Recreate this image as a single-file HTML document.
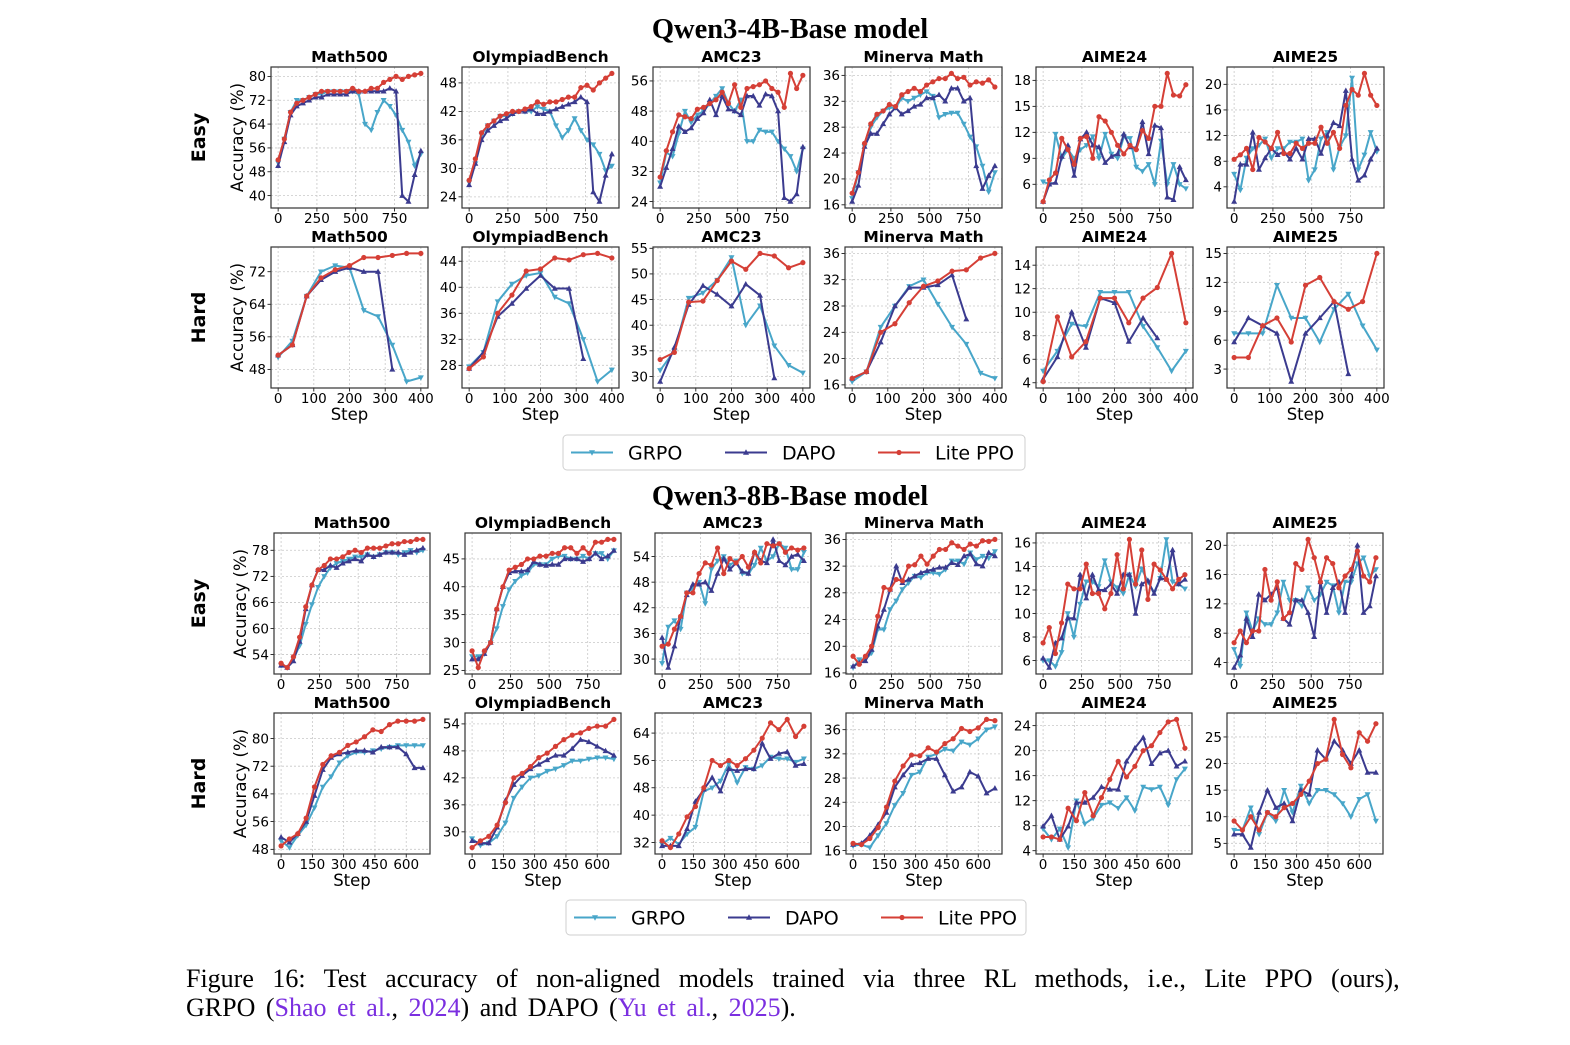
<!DOCTYPE html>
<html><head><meta charset="utf-8"><style>
body{margin:0;background:#fff;width:1570px;height:1040px;overflow:hidden;}
svg text{font-family:"DejaVu Sans","Liberation Sans",sans-serif;}
</style></head><body>
<svg id="fig" width="1570" height="1040" xmlns="http://www.w3.org/2000/svg">
<text x="790" y="38" text-anchor="middle" font-size="28.5" font-weight="bold" style="font-family:'Liberation Serif',serif">Qwen3-4B-Base model</text>
<text x="790" y="505" text-anchor="middle" font-size="28.5" font-weight="bold" style="font-family:'Liberation Serif',serif">Qwen3-8B-Base model</text>
<text x="186" y="987" font-size="26" word-spacing="12" style="font-family:'Liberation Serif',serif">Figure 16:  Test accuracy of non-aligned models trained via three RL methods, i.e., Lite PPO (ours),</text>
<text x="186" y="1016" font-size="26" word-spacing="4" style="font-family:'Liberation Serif',serif">GRPO (<tspan fill="#7b2fe0">Shao et al.</tspan>, <tspan fill="#7b2fe0">2024</tspan>) and DAPO (<tspan fill="#7b2fe0">Yu et al.</tspan>, <tspan fill="#7b2fe0">2025</tspan>).</text>
</svg>
<script>
// ---- step arrays
const stepsLong = [0,40,80,120,160,200,240,280,320,360,400,440,480,520,560,600,640,680,720,760,800,840,880,920];
const steps400 = [0,40,80,120,160,200,240,280,320,360,400];
const steps320 = [0,40,80,120,160,200,240,280,320];
const steps680 = [0,40,80,120,160,200,240,280,320,360,400,440,480,520,560,600,640,680];
const xticksLong = [0,250,500,750];
const xticks400 = [0,100,200,300,400];
const xticks680 = [0,150,300,450,600];

// ---- Row 1: 4B easy
const r1MathG=[51,59,68,72,72,73,74,74,75,75,75,75,75,74,64,62,68,72,70,67,62,58,50,54];
const r1MathD=[50,58,67,70,71,72,73,73,74,74,74,74,75,75,75,75,75,75,76,75,40,38,47,55];
const r1MathL=[52,59,68,71,72,73,74,75,75,75,75,75,76,75,75,76,76,78,79,80,79,80,80.5,81];
const r1MathT=[40,48,56,64,72,80];
const r1OlyG=[27,31,37,39,40,41,41,41.5,42,42,42,43,42.5,42,39,36.5,38,40.5,38,36,35,33,29.5,30.5];
const r1OlyD=[26.5,31,36,38,39,40,40.5,41.5,42,42,42.5,41.5,41.5,42,42.5,43,43.5,44,45,44,25,23,28.5,33];
const r1OlyL=[27.5,32,37.5,39,40,41,41.5,42,42,42.5,43,44,43.5,44,44,44.5,45,45,47,47.5,46.5,48,49,50];
const r1OlyT=[24,30,36,42,48];
const r1AmcG=[29,37,36,42,48,45,47,48,50,52,54,50,48,51,40,40,43,42.5,42.5,40,38,36,32,38];
const r1AmcD=[28,33,38,44,42.5,43.5,46,47.5,51,47,52,48.5,48,47,52,52,49.5,52.5,52,48,25,24,26,38.5];
const r1AmcL=[30.5,37.5,42.5,47,46.5,46,48.5,49,50,51,53,50,55,49,54,54.5,55,56,54,53,49,58,54,57.5];
const r1AmcT=[24,32,40,48,56];
const r1MinG=[17,21,25,28,29.5,30.5,31,31,32.5,32,32.5,33,33.5,32.8,29.5,30,30.2,30.2,28.5,26.5,25,22,18,21];
const r1MinD=[16.5,19,25,27,27,28.5,30,31,30,30.5,31.2,31.5,32.5,32.5,33,32,34,34,32,32.5,22,18.5,20.5,22];
const r1MinL=[17.8,21,25.5,28.5,30,30.5,31.5,31.2,33,33.5,34,33.5,34.5,35,35.5,35.5,36.3,35.5,35.7,34.5,35,34.8,35.3,34.2];
const r1MinT=[16,20,24,28,32,36];
const r1A24G=[6.3,6,11.8,9,10,9,10,10.5,11.5,9,11.8,9.5,9,11.5,11.3,8,7.5,8.3,6,11,6,8.3,6,5.5];
const r1A24D=[4,6,6.2,9.2,10.5,7,11.2,12,10.5,10.3,8.5,9.2,9.5,11.8,10.3,10.2,13.2,9.5,12.8,12.5,4.5,4.2,8,6.5];
const r1A24L=[4,6.5,7.3,11.3,10,8.3,11.3,11.5,9,13.8,13.3,12,10.5,9.5,10.5,10,12.2,11.3,15,15,18.8,16.3,16.2,17.5];
const r1A24T=[6,9,12,15,18];
const r1A25G=[6,3.5,8.5,10,10.5,11.5,8.5,10,10,11,11,11.5,5,6.7,11.5,12.5,6.7,10.2,12,21,6.7,9,12.5,9.5];
const r1A25D=[1.7,7.5,7.5,12.5,6.7,8.5,10,9,9.5,8.3,10,8.3,11.5,11.5,9.2,12,14,13.5,19,8.3,5,5.8,8.3,10];
const r1A25L=[8.3,9,10,6.7,11.7,11,10,12.5,9.2,9.2,10.8,10,10.8,10.8,13.3,10.8,12.5,10,16.7,19.2,18.3,21.7,18.3,16.7];
const r1A25T=[4,8,12,16,20];

// ---- Row 2: 4B hard
const r2MathG=[51,55,66,72,73.5,73,62.5,61,54,45,46];
const r2MathD=[51.5,54,66,70,72,73,72,72,48];
const r2MathL=[51.5,54,66,70.5,72.5,73.5,75.5,75.5,76,76.5,76.5];
const r2MathT=[48,56,64,72];
const r2OlyG=[27.8,30,37.8,40.5,41.8,42.2,38.5,37.5,32,25.5,27.3];
const r2OlyD=[27.5,30,35.5,37.5,39.8,41.8,39.8,39.8,29];
const r2OlyL=[27.5,29.3,36,38.8,42.5,42.8,44.5,44.2,45,45.2,44.5];
const r2OlyT=[28,32,36,40,44];
const r2AmcG=[31.2,35,45.3,46.3,48.8,53.2,40,43.8,36,32.2,30.7];
const r2AmcD=[29,35.7,44,47.7,46,43.7,48,45.8,29.7];
const r2AmcL=[33.3,34.7,44.5,44.7,48.7,52.5,50.9,54,53.5,51.2,52.2];
const r2AmcT=[30,35,40,45,50,55];
const r2MinG=[16.5,18,24.8,28,31,32,28.3,24.8,22.2,17.8,17];
const r2MinD=[17,18,22.5,28,30.8,30.8,31.2,32.7,26];
const r2MinL=[17,18,24,25.3,28.5,31,31.8,33.3,33.5,35.3,36];
const r2MinT=[16,20,24,28,32,36];
const r2A24G=[5,6.7,9,8.8,11.7,11.7,11.7,8.8,7,5,6.7];
const r2A24D=[4.3,6.2,10,7,11.2,10.8,7.5,9.5,7.8];
const r2A24L=[4.1,9.6,6.2,7.5,11.2,11.2,9.1,11.2,12.1,15,9.1];
const r2A24T=[4,6,8,10,12,14];
const r2A25G=[6.7,6.7,6.7,11.7,8.3,8.3,5.8,9.2,10.8,7.5,5];
const r2A25D=[5.8,8.3,7.5,6.7,1.7,6.7,8.3,10,2.5];
const r2A25L=[4.2,4.2,7.5,8.3,5.8,11.7,12.5,10,9.2,10,15];
const r2A25T=[3,6,9,12,15];

// ---- Row 3: 8B easy
const r3MathG=[51.5,51,53,56,61,65.5,69.5,72,74,75,75.5,76,76.5,76.5,77,76.5,77,77.5,77.5,77,77.5,78,77.5,78];
const r3MathD=[51.5,51,52.5,57,64.5,70,73.5,73.5,74.5,74,75,75.5,76,75.5,77,76.5,77,77.5,77.5,77.5,77,77.5,78,78.5];
const r3MathL=[52,51,53.5,58,65,70,73.5,74.5,76,76,76.5,77.5,78,77.5,78.5,78.5,78.5,79,79.5,79.5,80,80,80.5,80.5];
const r3MathT=[54,60,66,72,78];
const r3OlyG=[27.5,27.5,28,30,32.5,36.5,39.5,41,42,42.5,44,44,44,45,45.5,45.5,45,45,45.5,45,46,46,45,46.5];
const r3OlyD=[27,27,28,30,36,40,42.5,42.8,42.8,43,44.5,44,43.8,44,44,45,45,45,44.5,45,46,45,45.5,46.5];
const r3OlyL=[28.5,25.5,28.5,30,36,40,43,43.5,44,45,45,45.5,45.5,46,46,47,47,46,47,46,48,48,48.5,48.5];
const r3OlyT=[25,30,35,40,45];
const r3AmcG=[29,37.5,39,37,45.5,46.5,48,43,51,53,54,52,53,50,50,52,56,53,54,57,56,51,51,55];
const r3AmcD=[35,28,33,40,45,47.5,47.5,48,46,50,53.5,51,52.5,50.5,50,55,53,52.5,58,53,52,54,54.5,53];
const r3AmcL=[33,33.5,37,40,45.5,45.5,50,52.5,52,56,50,53.5,52.5,54,51.5,55,52.5,57,56.5,57,55,56,55.5,56];
const r3AmcT=[30,36,42,48,54];
const r3MinG=[16.8,18,18,19,22.5,22.5,25.5,26.8,28.5,29.5,30.5,30.3,31,31,30.8,31.5,32.8,32.8,32.3,34,33,33.5,33.2,34.2];
const r3MinD=[17,17.5,17.8,19.5,23,25.5,28.5,32,29.5,30,30.5,31,31.3,31.5,31.8,31.8,32.5,32.2,33.5,33.8,32.3,32,34,33.5];
const r3MinL=[18.5,17.3,18.5,20,24.5,28.8,28.5,30,29.8,32,32.2,33.5,32.3,33.5,34.5,34.5,35.5,35,34.5,35.3,35,35.8,35.7,36];
const r3MinT=[16,20,24,28,32,36];
const r3A24G=[6,6,5.5,6.7,10,8,10.8,12.7,12.7,12.3,14.5,12.7,12.2,11.7,13.3,12.3,13.8,12.7,11.8,13,16.3,12.7,12.5,12.1];
const r3A24D=[6.2,5.4,7.5,7.9,9.6,9.6,13.3,11.3,13.3,12,12,12.5,11.7,13.3,13.3,10,12.5,12.8,11.7,13,12.9,15.4,12.5,12.9];
const r3A24L=[7.5,8.8,6.6,9.2,12.5,12.1,12.1,14.2,11.7,11.7,10.4,11.7,15,12.1,16.3,12.5,15.4,11.2,14.2,13.7,12.9,12.1,12.9,13.3];
const r3A24T=[6,8,10,12,14,16];
const r3A25G=[5.8,3.5,10.8,8.3,10,9.2,9.2,10.8,15,12.5,12.5,11.7,14.2,12.5,13.3,15,14.5,10.8,15,15,17.5,18.3,15.8,16.7];
const r3A25D=[3.3,5,10,7.5,13.3,12.5,13.3,14.2,10,9.2,12.5,12.5,10.8,7.5,15,10.8,14.2,15,10.8,15.8,20,10.8,11.7,15.8];
const r3A25L=[6.7,8.3,6.7,8.3,8.3,16.7,12.5,15,10,10.8,17.5,16.7,20.8,18.3,15,18.3,17.5,14.2,15.8,16.7,19.2,15.8,15,18.3];
const r3A25T=[4,8,12,16,20];

// ---- Row 4: 8B hard
const r4MathG=[50.5,48.5,52,55,60,66,69,73,75,76,76,76.5,77,77.5,78,78,78,78];
const r4MathD=[51.5,50,52.5,56,63.5,71,74.5,75.5,76,76.5,76.5,76,77.5,77.5,77.5,75.5,71.5,71.5];
const r4MathL=[49,51,52.5,57,66,72.5,75,76,78,79,80.5,82.5,82,84,85,85,85,85.5];
const r4MathT=[48,56,64,72,80];
const r4OlyG=[28.5,27,27.5,29,32,37.5,40,42,42.5,43.5,44,44.8,45.8,45.8,46.2,46.5,46.5,46.2];
const r4OlyD=[28,27.5,27.5,31,37,40.5,42.5,44,45,46,47,47,48.5,50.5,50,49,48,47];
const r4OlyL=[26.5,28,29,31.5,36.5,42,43,44.5,46.5,47.5,49,50.5,51.5,52,53,53.5,53.5,55];
const r4OlyT=[30,36,42,48,54];
const r4AmcG=[31.5,33.3,31.5,34.5,36.5,47,48,50,55,49.5,54,53.5,54.5,57,56.5,56.5,55.5,56.5];
const r4AmcD=[31,31,31,36,44,47.5,51,47,53.5,53,53.5,53.5,61,56.5,58,58.5,54.5,55];
const r4AmcL=[32.5,30.5,34.5,39.5,42.5,48,56,54.5,56,54.5,56.5,59,62.5,67,65,68,63,66];
const r4AmcT=[32,40,48,56,64];
const r4MinG=[16.8,17,16.5,18.5,20.5,23.5,25.5,28.5,29,31.5,32,32.8,32.5,34,33.5,34.5,36,36.5];
const r4MinD=[17,17.2,18.5,20.3,22.3,26.5,28.5,30.2,30.5,31.2,31.2,28.5,25.8,26.5,29,28.3,25.5,26.3];
const r4MinL=[17.2,17,18,19.8,23.2,27.5,30,31.8,31.7,33,32.3,33.7,34.5,36.2,35.7,36.3,37.7,37.5];
const r4MinT=[16,20,24,28,32,36];
const r4A24G=[7.5,5.8,7.5,4.5,12,8.3,9.2,11.3,11.7,10.8,12.5,10.4,14.2,13.8,14.2,11.3,15.4,17.1];
const r4A24D=[7.9,9.6,5.8,7.9,11.7,11.7,12.5,14.2,13.8,13.8,18.3,20.4,22.1,17.9,19.6,20,17.5,18.3];
const r4A24L=[6.2,6.2,5.8,10.8,8.8,13.3,9.6,12.5,15.4,18.3,15.8,17.5,20,20.8,22.9,24.6,25,20.4];
const r4A24T=[4,8,12,16,20,24];
const r4A25G=[7.5,7.5,11.7,6.7,10.8,9.2,15,10.8,15.8,12.5,15,15,14.2,12.5,10,13.3,14.2,9.2];
const r4A25D=[6.7,6.7,4.2,10.8,15,11.7,12.5,9.2,15,14.2,22.5,20.8,24.2,22.5,20,22.5,18.3,18.3];
const r4A25L=[9.2,7.5,10,7.5,10.8,10,11.7,12.5,14.2,16.7,20,20.8,28.3,21.7,19.2,25.8,24.2,27.5];
const r4A25T=[5,10,15,20,25];

const titles=["Math500","OlympiadBench","AMC23","Minerva Math","AIME24","AIME25"];
const COL={g:"#48a6c9",d:"#3b3b8f",l:"#d53f36"};
const NS="http://www.w3.org/2000/svg";
const svg=document.getElementById('fig');
function mk(tag,attrs,parent){const e=document.createElementNS(NS,tag);for(const k in attrs)e.setAttribute(k,attrs[k]);(parent||svg).appendChild(e);return e;}

const rows=[
 {y0:67,xs:[271,462,653,845,1036,1227],w:157,h:141,label:"Easy",step:false,
  x:[stepsLong,stepsLong,stepsLong],xt:xticksLong,
  p:[[r1MathG,r1MathD,r1MathL,r1MathT],[r1OlyG,r1OlyD,r1OlyL,r1OlyT],[r1AmcG,r1AmcD,r1AmcL,r1AmcT],[r1MinG,r1MinD,r1MinL,r1MinT],[r1A24G,r1A24D,r1A24L,r1A24T],[r1A25G,r1A25D,r1A25L,r1A25T]]},
 {y0:247,xs:[271,462,653,845,1036,1227],w:157,h:141,label:"Hard",step:true,
  x:[steps400,steps320,steps400],xt:xticks400,
  p:[[r2MathG,r2MathD,r2MathL,r2MathT],[r2OlyG,r2OlyD,r2OlyL,r2OlyT],[r2AmcG,r2AmcD,r2AmcL,r2AmcT],[r2MinG,r2MinD,r2MinL,r2MinT],[r2A24G,r2A24D,r2A24L,r2A24T],[r2A25G,r2A25D,r2A25L,r2A25T]]},
 {y0:533,xs:[274,465,655,846,1036,1227],w:156,h:141,label:"Easy",step:false,
  x:[stepsLong,stepsLong,stepsLong],xt:xticksLong,
  p:[[r3MathG,r3MathD,r3MathL,r3MathT],[r3OlyG,r3OlyD,r3OlyL,r3OlyT],[r3AmcG,r3AmcD,r3AmcL,r3AmcT],[r3MinG,r3MinD,r3MinL,r3MinT],[r3A24G,r3A24D,r3A24L,r3A24T],[r3A25G,r3A25D,r3A25L,r3A25T]]},
 {y0:713,xs:[274,465,655,846,1036,1227],w:156,h:141,label:"Hard",step:true,
  x:[steps680,steps680,steps680],xt:xticks680,
  p:[[r4MathG,r4MathD,r4MathL,r4MathT],[r4OlyG,r4OlyD,r4OlyL,r4OlyT],[r4AmcG,r4AmcD,r4AmcL,r4AmcT],[r4MinG,r4MinD,r4MinL,r4MinT],[r4A24G,r4A24D,r4A24L,r4A24T],[r4A25G,r4A25D,r4A25L,r4A25T]]}
];

function marker(g,type,x,y,c){
  let e;
  if(type==='l'){e=mk('circle',{cx:x,cy:y,r:2.6,fill:c},g);}
  else if(type==='d'){e=mk('polygon',{points:`${x},${y-3.2} ${x-3},${y+2.2} ${x+3},${y+2.2}`,fill:c},g);}
  else {e=mk('polygon',{points:`${x},${y+3.2} ${x-3},${y-2.2} ${x+3},${y-2.2}`,fill:c},g);}
  
  
}

rows.forEach((row,ri)=>{
  const yc=row.y0+row.h/2;
  const lab=mk('text',{x:0,y:0,transform:`translate(205,${yc}) rotate(-90)`,'text-anchor':'middle','font-size':19,'font-weight':'bold'});
  lab.textContent=row.label;
  
  
  const acc=mk('text',{x:0,y:0,transform:`translate(${row.xs[0]-28},${yc}) rotate(-90)`,'text-anchor':'middle','font-size':16.5});
  acc.textContent="Accuracy (%)";
  
  
  row.p.forEach((pd,pi)=>{
    const x0=row.xs[pi],y0=row.y0,w=row.w,h=row.h;
    const g=mk('g',{});
    
    
    const all=[].concat(pd[0],pd[1],pd[2]);
    let mn=Math.min(...all),mx=Math.max(...all);const pad=(mx-mn)*0.05;mn-=pad;mx+=pad;
    const xmax=Math.max(...row.x[0],...row.x[2]);const xp=xmax*0.05;
    const sx=v=>x0+(v+xp)/(xmax+2*xp)*w;
    const sy=v=>y0+h-(v-mn)/(mx-mn)*h;
    row.xt.forEach(t=>{const X=sx(t);
      mk('line',{x1:X,x2:X,y1:y0,y2:y0+h,stroke:'#c8c8c8','stroke-width':0.8,'stroke-dasharray':'2,2'},g);
      mk('line',{x1:X,x2:X,y1:y0+h,y2:y0+h+3.5,stroke:'#000','stroke-width':0.8},g);
      const tt=mk('text',{x:X,y:y0+h+15,'text-anchor':'middle','font-size':13.5},g);tt.textContent=t;
      
      
    });
    pd[3].forEach(t=>{const Y=sy(t);if(Y<y0-1||Y>y0+h+1)return;
      mk('line',{x1:x0,x2:x0+w,y1:Y,y2:Y,stroke:'#c8c8c8','stroke-width':0.8,'stroke-dasharray':'2,2'},g);
      mk('line',{x1:x0-3.5,x2:x0,y1:Y,y2:Y,stroke:'#000','stroke-width':0.8},g);
      const tt=mk('text',{x:x0-5,y:Y+4.8,'text-anchor':'end','font-size':13.5},g);tt.textContent=t;
      
      
    });
    ['g','d','l'].forEach((k,si)=>{
      const ys=pd[si],xs=row.x[si];
      const pts=ys.map((v,i)=>sx(xs[i])+','+sy(v)).join(' ');
      const ln=mk('polyline',{points:pts,fill:'none',stroke:COL[k],'stroke-width':2,'stroke-linejoin':'round'},g);
      
      
      ys.forEach((v,i)=>marker(g,k,sx(xs[i]),sy(v),COL[k]));
    });
    mk('rect',{x:x0,y:y0,width:w,height:h,fill:'none',stroke:'#333','stroke-width':1.2},g);
    const ti=mk('text',{x:x0+w/2,y:y0-5,'text-anchor':'middle','font-size':15.5,'font-weight':'bold'},g);
    ti.textContent=titles[pi];
    
    
    if(row.step){const st=mk('text',{x:x0+w/2,y:y0+h+32,'text-anchor':'middle','font-size':16.5},g);st.textContent='Step';
      
      }
  });
});

function legend(x,y,w,h,nm){
  const g=mk('g',{});
  
  
  mk('rect',{x:x,y:y,width:w,height:h,rx:4,fill:'#fff',stroke:'#cfcfcf','stroke-width':1},g);
  const items=[['GRPO','g',8],['DAPO','d',162],['Lite PPO','l',315]];
  items.forEach(([t,k,ox])=>{
    const cy=y+h/2;
    const e=mk('g',{},g);
    
    
    mk('line',{x1:x+ox,x2:x+ox+42,y1:cy,y2:cy,stroke:COL[k],'stroke-width':2},e);
    marker(e,k,x+ox+21,cy,COL[k]);
    const tt=mk('text',{x:x+ox+57,y:cy+7,'font-size':19},e);tt.textContent=t;
  });
}
legend(563,435,462,35,'legend-4b');
legend(566,900,460,35,'legend-8b');
</script>
</body></html>
